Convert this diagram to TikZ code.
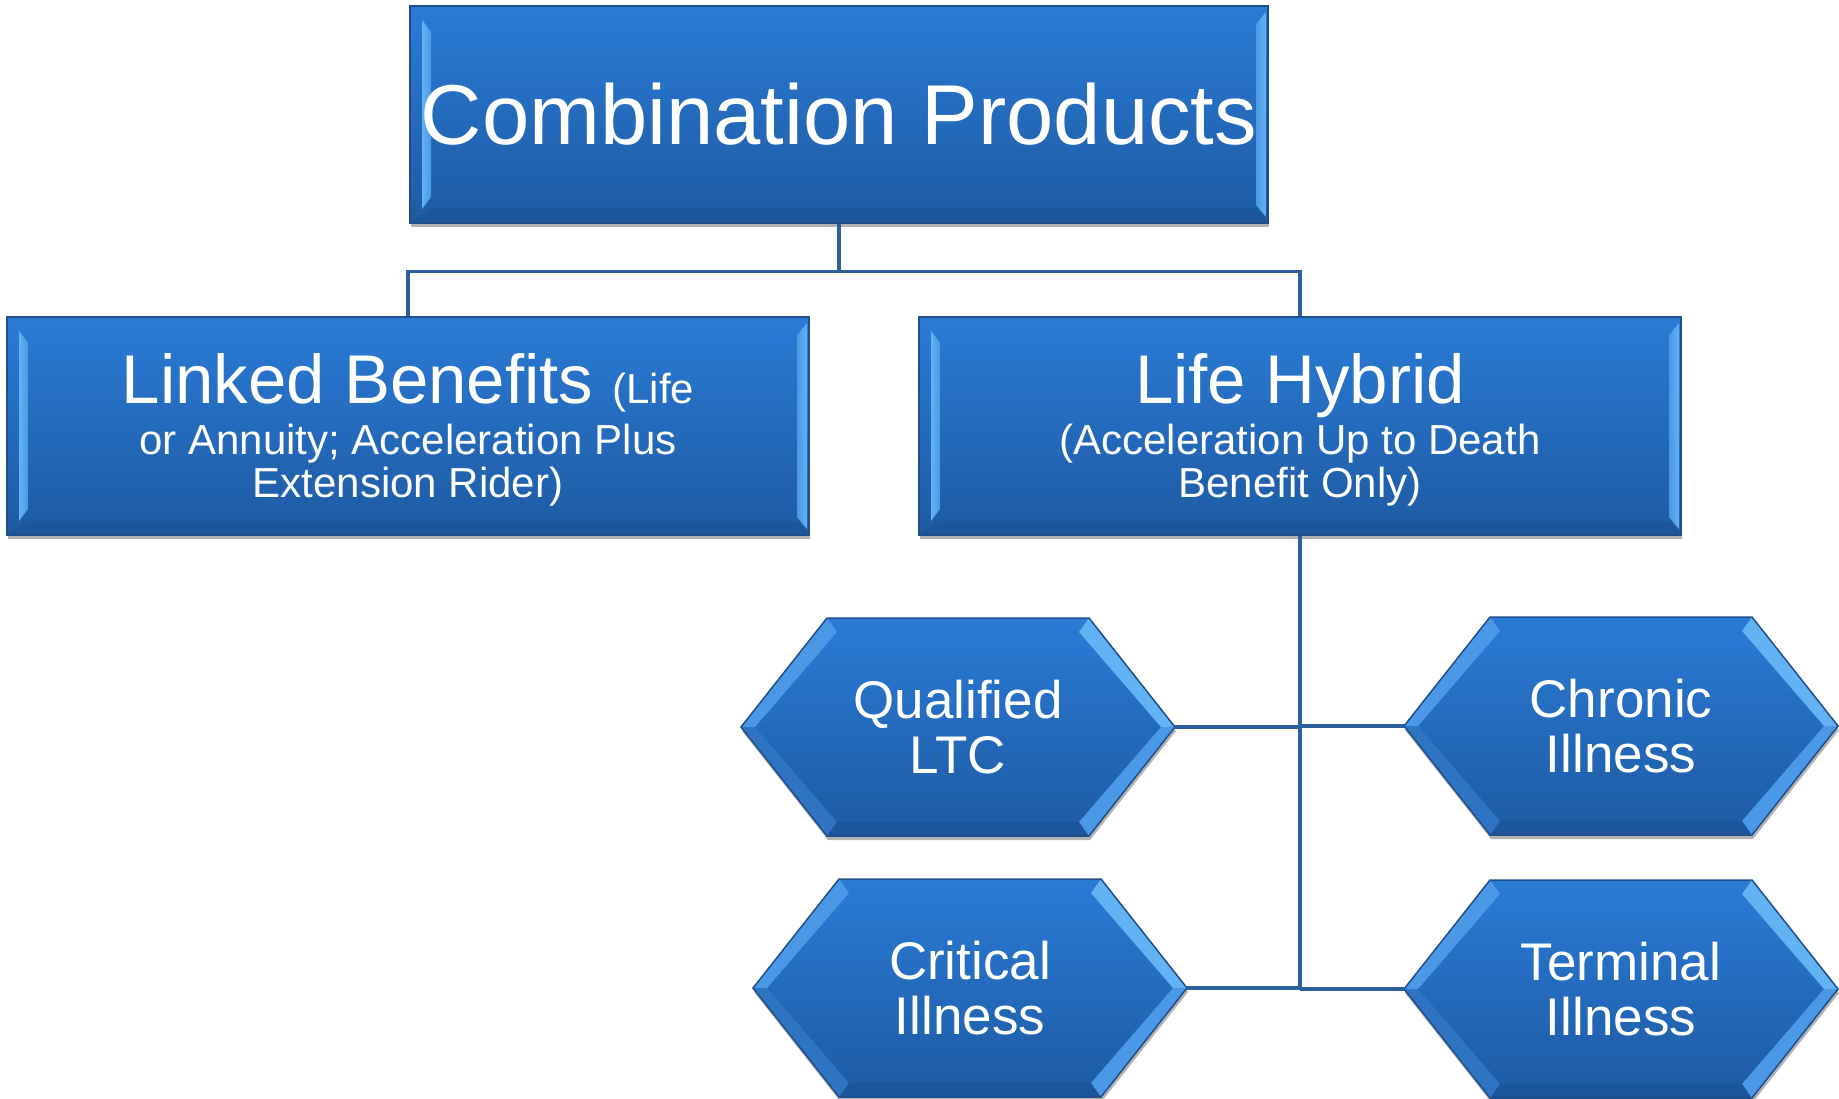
\documentclass[tikz,border=0pt]{standalone}
\usepackage{fontspec}
\setmainfont{Liberation Sans}
\usetikzlibrary{calc,shadows,positioning}

\definecolor{boxtop}{HTML}{2A7BD6}
\definecolor{boxbot}{HTML}{1E5AA2}
\definecolor{boxedge}{HTML}{1F4E8A}
\definecolor{linkblue}{HTML}{2D5F9C}
\definecolor{bevelhi}{HTML}{62B2F4}
\definecolor{bevelmid}{HTML}{4A98E6}
\definecolor{bevellow}{HTML}{2F74C2}
\definecolor{beveldark}{HTML}{1A4A88}

% fixed baseline distance inside the boxes
\newcommand{\fixedlines}{\lineskiplimit=-100pt\relax}
% extra room above the first line
\newcommand{\topstrut}{\rule{0pt}{57pt}}

\tikzset{
  boxshadow/.style={drop shadow={shadow xshift=1pt,shadow yshift=-4pt,opacity=.3,fill=black}},
  rectbevel/.style={path picture={
      \coordinate (bnw) at (path picture bounding box.north west);
      \coordinate (bse) at (path picture bounding box.south east);
      \coordinate (bsw) at (bnw |- bse);
      \coordinate (bne) at (bse |- bnw);
      % left rim
      \shade[left color=bevelhi, right color=bevelmid]
        ($(bnw)+(12,14)$) -- ($(bnw)+(21,26)$) -- ($(bsw)+(21,-26)$) -- ($(bsw)+(12,-14)$) -- cycle;
      % right rim
      \shade[left color=bevelmid, right color=bevelhi]
        ($(bne)+(-12,18)$) -- ($(bne)+(-2,6)$) -- ($(bse)+(-2,-6)$) -- ($(bse)+(-12,-18)$) -- cycle;
      % bottom rim
      \fill[beveldark, opacity=.35]
        ($(bsw)+(2,-2)$) -- ($(bsw)+(21,-14)$) -- ($(bse)+(-12,-14)$) -- ($(bse)+(-2,-2)$) -- cycle;
    }},
  rectbox/.style={top color=boxtop, bottom color=boxbot, draw=boxedge, line width=1.5pt,
    rectbevel, boxshadow, inner sep=0pt, text=white, align=center,
    font=\fontsize{42}{43}\selectfont\fixedlines},
  hextext/.style={text=white, align=center, inner sep=0pt,
    font=\fontsize{53}{55}\selectfont\fixedlines},
  link/.style={draw=linkblue, line width=3.5pt},
}

% hexagon: name, centre, text
\newcommand{\hexbox}[3]{%
  \begin{scope}[shift={(#2)}]
    \shade[top color=boxtop, bottom color=boxbot, boxshadow]
      (-217,0) -- (-131,-109) -- (131,-109) -- (217,0) -- (131,109) -- (-131,109) -- cycle;
    \fill[bevelmid] (-217,0) -- (-131,-109) -- (-121,-95) -- (-203,0) -- cycle;
    \fill[bevelhi] (131,-109) -- (217,0) -- (203,0) -- (121,-95) -- cycle;
    \fill[bevelmid] (217,0) -- (131,109) -- (121,95) -- (203,0) -- cycle;
    \fill[bevellow] (-131,109) -- (-217,0) -- (-203,0) -- (-121,95) -- cycle;
    \fill[beveldark, opacity=.35] (131,109) -- (-131,109) -- (-121,95) -- (121,95) -- cycle;
    \draw[boxedge, line width=1.5pt]
      (-217,0) -- (-131,-109) -- (131,-109) -- (217,0) -- (131,109) -- (-131,109) -- cycle;
    \node[hextext] (#1) at (0,0) {#3};
    \coordinate (#1-w) at (-217,0);
    \coordinate (#1-e) at (217,0);
  \end{scope}}

\begin{document}
\begin{tikzpicture}[x=1pt,y=-1pt]
  \useasboundingbox (0,0) rectangle (1839,1099);

  % top level
  \node[rectbox, minimum width=858pt, minimum height=217pt,
        font=\fontsize{85}{90}\selectfont] (combo) at (839,114.5) {Combination Products};

  % second level
  \node[rectbox, minimum width=802pt, minimum height=218pt] (linked) at (408,426)
    {\topstrut{\fontsize{69}{69}\selectfont Linked Benefits }(Life\\[8pt]
     or Annuity; Acceleration Plus\\ Extension Rider)};
  \node[rectbox, minimum width=762pt, minimum height=218pt] (hybrid) at (1300,426)
    {\topstrut{\fontsize{69}{69}\selectfont Life Hybrid}\\[8pt]
     (Acceleration Up to Death\\ Benefit Only)};

  % riders under the hybrid
  \hexbox{qltc}{958,727}{Qualified\\LTC}
  \hexbox{chronic}{1621,726}{Chronic\\Illness}
  \hexbox{critical}{970,988}{Critical\\Illness}
  \hexbox{terminal}{1621,989}{Terminal\\Illness}

  % connectors
  \coordinate (bar) at ($(combo.south)+(0,48)$);
  \draw[link] (combo.south) -- (bar);
  \draw[link] (linked.north) |- (bar) -| (hybrid.north);
  \coordinate (trunk) at (hybrid.south |- terminal-w);
  \draw[link] (hybrid.south) -- (trunk);
  \draw[link] (qltc-e) -- (qltc-e -| trunk);
  \draw[link] (chronic-w) -- (chronic-w -| trunk);
  \draw[link] (critical-e) -- (critical-e -| trunk);
  \draw[link] (terminal-w) -- (trunk);
\end{tikzpicture}
\end{document}
